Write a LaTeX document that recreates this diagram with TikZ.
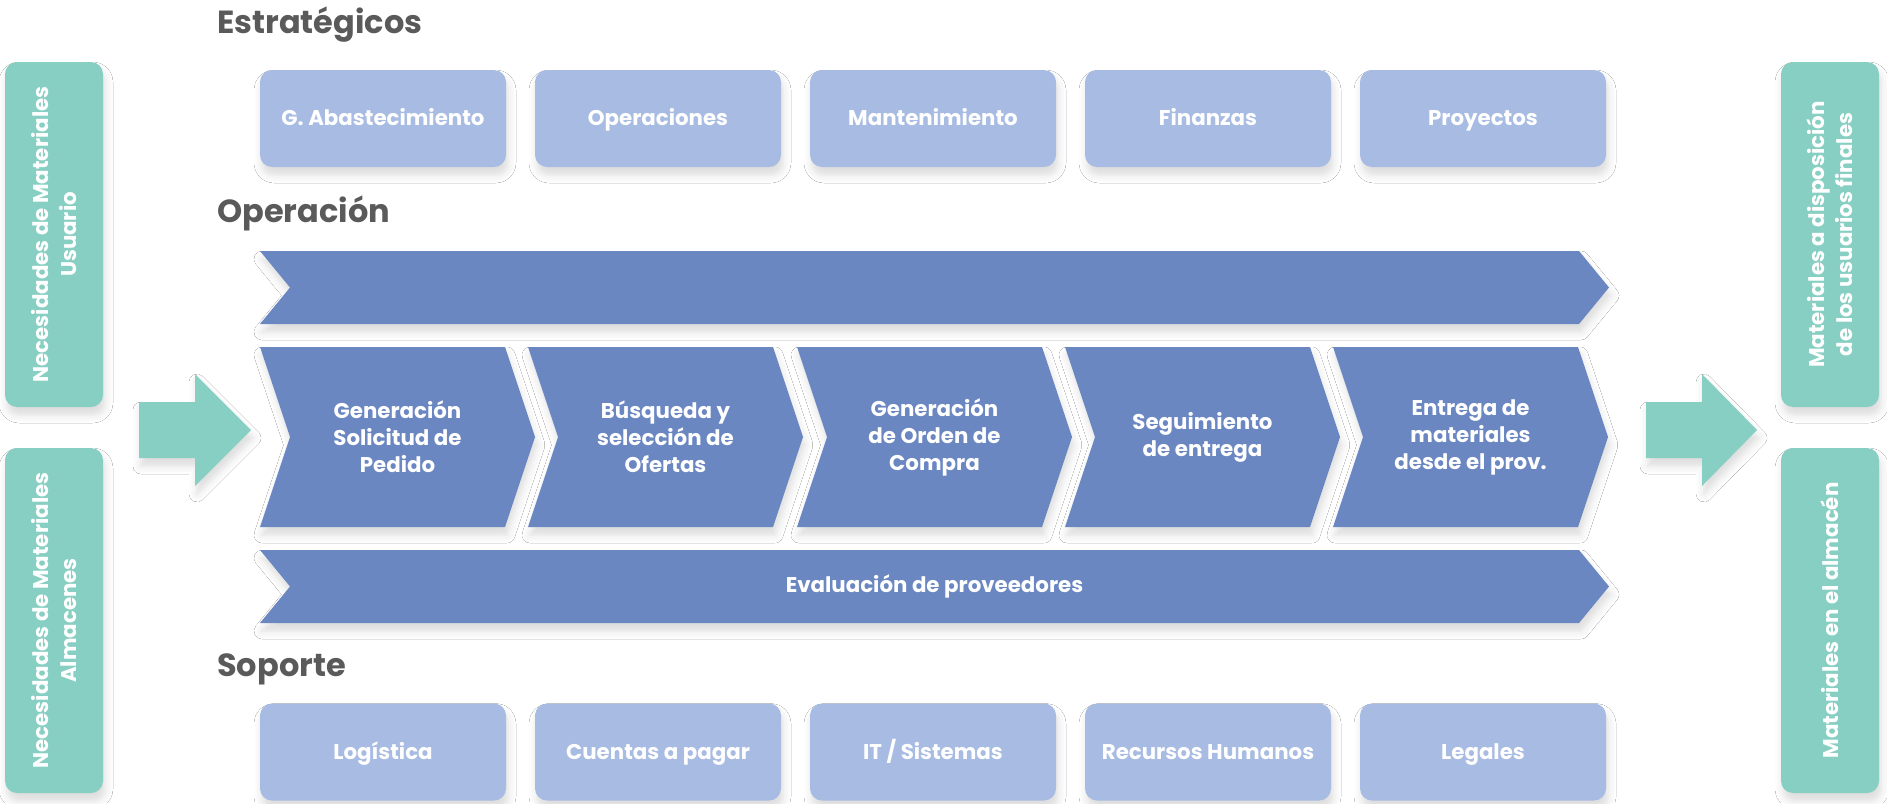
\documentclass[tikz,border=0pt]{standalone}
\usepackage{fontspec}
\setmainfont{Poppins}
\usetikzlibrary{shadows.blur}
\definecolor{tealc}{HTML}{88CFC3}
\definecolor{lightb}{HTML}{A8BBE2}
\definecolor{darkb}{HTML}{6B87C2}
\definecolor{headg}{HTML}{5A5A5A}
\tikzset{
  softshadow/.style={blur shadow={shadow xshift=1.5pt, shadow yshift=-6pt, shadow blur radius=6pt, shadow opacity=14}},
  sbox/.style={fill=lightb, rounded corners=9pt, minimum width=184.5pt, minimum height=72.75pt, inner sep=0pt, text height=14pt, text depth=3pt, text=white, font=\fontsize{16}{19}\selectfont\bfseries, softshadow},
  tbox/.style={fill=tealc, rounded corners=9pt, minimum width=73.5pt, minimum height=258.75pt, softshadow},
  vtext/.style={rotate=90, text=white, align=center, font=\fontsize{16}{21}\selectfont\bfseries},
  ptext/.style={text=white, align=center, font=\fontsize{16}{20.25}\selectfont\bfseries},
  head/.style={anchor=base west, inner sep=0pt, text=headg, font=\fontsize{24}{28}\selectfont\bfseries}
}
\def\chevron[#1](#2:#3:#4:#5){\fill[#1] (#2,#3) -- (#4,#3) -- ({#4+30},{(#3+#5)/2}) -- (#4,#5) -- (#2,#5) -- ({#2+30},{(#3+#5)/2}) -- cycle;}

\begin{document}
\begin{tikzpicture}[x=0.75pt, y=-0.75pt]
			%%%%% START %%%%%
			\useasboundingbox[fill=white] (0,0) rectangle (1887,803);
			
			\node[head] (hest) at (217,33) {Estratégicos};
			\node[head] (hope) at (217,222) {Operación};
			\node[head] (hsop) at (217,676) {Soporte};
			
			\node[tbox] (nmu) at (54,234.5) {};
			\node[vtext] (nmutxt) at (nmu) {Necesidades de Materiales\\Usuario};
			\node[tbox] (nma) at (54,620.5) {};
			\node[vtext] (nmatxt) at (nma) {Necesidades de Materiales\\Almacenes};
			\node[tbox] (mdu) at (1830,234.5) {};
			\node[vtext] (mdutxt) at (mdu) {Materiales a disposición\\de los usuarios finales};
			\node[tbox] (mea) at (1830,620.5) {};
			\node[vtext] (meatxt) at (mea) {Materiales en el almacén};
			
			\fill[tealc, softshadow] (139,402) -- (195,402) -- (195,374) -- (251,430) -- (195,486) -- (195,458) -- (139,458) -- cycle;
			\fill[tealc, softshadow] (1646,402) -- (1702,402) -- (1702,374) -- (1757,430) -- (1702,486) -- (1702,458) -- (1646,458) -- cycle;
			
			\node[sbox] (gab) at (383,118.5) {G. Abastecimiento};
			\node[sbox] (ope) at (658,118.5) {Operaciones};
			\node[sbox] (man) at (933,118.5) {Mantenimiento};
			\node[sbox] (fin) at (1208,118.5) {Finanzas};
			\node[sbox] (pro) at (1483,118.5) {Proyectos};
			
			\chevron[darkb, softshadow](260:251:1579:324)
			
			\chevron[darkb, softshadow](260:347:505:527)
			\chevron[darkb, softshadow](528:347:773:527)
			\chevron[darkb, softshadow](797:347:1042:527)
			\chevron[darkb, softshadow](1065:347:1310:527)
			\chevron[darkb, softshadow](1333:347:1578:527)
			
			\node[ptext] (gsp) at (397.5,437) {Generación\\Solicitud de\\Pedido};
			\node[ptext] (bso) at (665.5,437) {Búsqueda y\\selección de\\Ofertas};
			\node[ptext] (goc) at (934.5,437) {Generación\\de Orden de\\Compra};
			\node[ptext] (sen) at (1202.5,437) {Seguimiento\\de entrega};
			\node[ptext] (emp) at (1470.5,437) {Entrega de\\materiales\\desde el prov.};
			
			\chevron[darkb, softshadow](260:550:1579:623)
			\node[ptext] (evp) at (934.5,586.5) {Evaluación de proveedores};
			
			\node[sbox] (log) at (383,752) {Logística};
			\node[sbox] (cap) at (658,752) {Cuentas a pagar};
			\node[sbox] (its) at (933,752) {IT / Sistemas};
			\node[sbox] (rhu) at (1208,752) {Recursos Humanos};
			\node[sbox] (leg) at (1483,752) {Legales};
			%%%%% END %%%%%
\end{tikzpicture}
\end{document}
